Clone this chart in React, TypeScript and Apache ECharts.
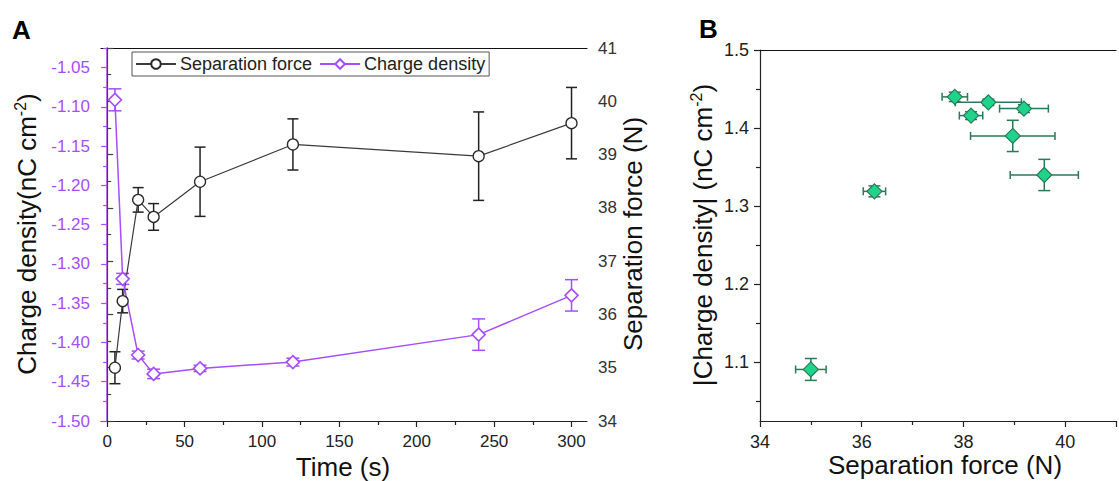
import React, { useEffect, useRef } from "react";
import * as echarts from "echarts";

// ---- data ----
const time = [5, 10, 20, 30, 60, 120, 240, 300];
const force = [35.0, 36.25, 38.15, 37.83, 38.49, 39.19, 38.97, 39.59];
const forceErr = [0.3, 0.22, 0.23, 0.25, 0.65, 0.48, 0.83, 0.67];
const charge = [-1.091, -1.319, -1.416, -1.44, -1.433, -1.425, -1.39, -1.34];
const chargeErr = [0.014, 0.007, 0.005, 0.006, 0.004, 0.005, 0.02, 0.02];

// ---- tick labels ----
const timeTicks = [0, 50, 100, 150, 200, 250, 300];
const timeMinor = [25, 75, 125, 175, 225, 275];
const chargeTicks = [-1.5, -1.45, -1.4, -1.35, -1.3, -1.25, -1.2, -1.15, -1.1, -1.05];
const chargeMinor = [-1.475, -1.425, -1.375, -1.325, -1.275, -1.225, -1.175, -1.125, -1.075, -1.025];
const absTicks = [1.1, 1.2, 1.3, 1.4, 1.5];
const absMinor = [1.05, 1.15, 1.25, 1.35, 1.45];

const FONT = "'Liberation Sans', Arial, sans-serif";
const PURPLE = "#a64dff";
const DARK = "#333333";
const GREEN_FILL = "#1fd38c";
const GREEN_DARK = "#2a7a55";

function vErr(color: string, hw: number, lw: number) {
  return (params: any, api: any) => {
    const x = api.value(0);
    const y = api.value(1);
    const e = api.value(2);
    const t = api.coord([x, y + e]);
    const b = api.coord([x, y - e]);
    const st = { stroke: color, lineWidth: lw };
    return {
      type: "group",
      children: [
        { type: "line", shape: { x1: t[0], y1: t[1], x2: b[0], y2: b[1] }, style: st },
        { type: "line", shape: { x1: t[0] - hw, y1: t[1], x2: t[0] + hw, y2: t[1] }, style: st },
        { type: "line", shape: { x1: b[0] - hw, y1: b[1], x2: b[0] + hw, y2: b[1] }, style: st },
      ],
    };
  };
}

function xyErr(color: string) {
  return (params: any, api: any) => {
    const x = api.value(0);
    const y = api.value(1);
    const ex = api.value(2);
    const ey = api.value(3);
    const t = api.coord([x, y + ey]);
    const b = api.coord([x, y - ey]);
    const l = api.coord([x - ex, y]);
    const r = api.coord([x + ex, y]);
    const st = { stroke: color, lineWidth: 1.5 };
    const hy = 6;
    const hx = 4;
    return {
      type: "group",
      children: [
        { type: "line", shape: { x1: t[0], y1: t[1], x2: b[0], y2: b[1] }, style: st },
        { type: "line", shape: { x1: t[0] - hy, y1: t[1], x2: t[0] + hy, y2: t[1] }, style: st },
        { type: "line", shape: { x1: b[0] - hy, y1: b[1], x2: b[0] + hy, y2: b[1] }, style: st },
        { type: "line", shape: { x1: l[0], y1: l[1], x2: r[0], y2: r[1] }, style: st },
        { type: "line", shape: { x1: l[0], y1: l[1] - hx, x2: l[0], y2: l[1] + hx }, style: st },
        { type: "line", shape: { x1: r[0], y1: r[1] - hx, x2: r[0], y2: r[1] + hx }, style: st },
      ],
    };
  };
}

function nameText(x: number, y: number, rotated: boolean, main: string, after: string, sup: string) {
  const txt = sup ? `{n|${main}}{s|${sup}}{n|${after}}` : `{n|${main}}`;
  return {
    type: "text",
    x,
    y,
    rotation: rotated ? Math.PI / 2 : 0,
    style: {
      text: txt,
      textAlign: "center",
      textVerticalAlign: "middle",
      align: "center",
      verticalAlign: "middle",
      rich: {
        n: { fontSize: 26, fontFamily: FONT, fill: "#111", lineHeight: 30 },
        s: { fontSize: 16, fontFamily: FONT, fill: "#111", lineHeight: 16, verticalAlign: "top" },
      },
    },
  };
}

export default function App() {
  const ref = useRef<HTMLDivElement>(null);

  useEffect(() => {
    if (!ref.current) return;
    const chart = echarts.init(ref.current, undefined, { renderer: "svg" });

    const forceData = time.map((t, i) => [t, force[i]]);
    const forceErrData = time.map((t, i) => [t, force[i], forceErr[i]]);
    const chargeData = time.map((t, i) => [t, charge[i]]);
    const chargeErrData = time.map((t, i) => [t, charge[i], chargeErr[i]]);
    const bData = time.map((_, i) => [force[i], Math.abs(charge[i])]);
    const bErrData = time.map((_, i) => [force[i], Math.abs(charge[i]), forceErr[i], chargeErr[i]]);

    const labelBase = { fontFamily: FONT, fontSize: 17 };

    const option: any = {
      animation: false,
      backgroundColor: "#ffffff",
      textStyle: { fontFamily: FONT },
      grid: [
        { left: 101, top: 48, width: 486, height: 373 },
        { left: 760, top: 50, width: 370, height: 371 },
      ],
      legend: {
        data: ["Separation force", "Charge density"],
        left: 132,
        top: 52,
        orient: "horizontal",
        borderColor: "#555",
        borderWidth: 1,
        borderRadius: 0,
        padding: [3, 4, 3, 3],
        itemGap: 7,
        itemWidth: 40,
        itemHeight: 12,
        textStyle: { fontFamily: FONT, fontSize: 18, color: "#222", padding: [0, 0, 0, -1] },
      },
      xAxis: [
        {
          type: "value", gridIndex: 0, position: "bottom", min: -4, max: 310,
          axisLine: { show: true, lineStyle: { color: "#222", width: 1.2 } },
          axisTick: { show: true, customValues: timeTicks, length: 6, lineStyle: { color: "#222", width: 1.2 } },
          axisLabel: { show: true, customValues: timeTicks, margin: 12, color: "#222", ...labelBase },
          splitLine: { show: false },
        },
        {
          type: "value", gridIndex: 0, position: "bottom", min: -4, max: 310,
          axisLine: { show: false },
          axisTick: { show: true, customValues: timeMinor, length: 4, lineStyle: { color: "#222", width: 1.2 } },
          axisLabel: { show: false },
          splitLine: { show: false },
        },
        {
          type: "value", gridIndex: 0, position: "top", min: -4, max: 310,
          axisLine: { show: true, lineStyle: { color: "#111", width: 1.2 } },
          axisTick: { show: false }, axisLabel: { show: false }, splitLine: { show: false },
        },
        {
          type: "value", gridIndex: 1, position: "bottom", min: 34, max: 41, interval: 2,
          axisLine: { show: true, lineStyle: { color: "#222", width: 1.2 } },
          axisTick: { show: true, length: 6, lineStyle: { color: "#222", width: 1.2 } },
          minorTick: { show: true, splitNumber: 2, length: 4, lineStyle: { color: "#222", width: 1.2 } },
          axisLabel: { show: true, margin: 12, color: "#222", fontFamily: FONT, fontSize: 18,
            formatter: (v: number) => (v > 40.5 ? "" : String(v)) },
          splitLine: { show: false },
        },
        {
          type: "value", gridIndex: 1, position: "top", min: 34, max: 41,
          axisLine: { show: true, lineStyle: { color: "#111", width: 1.2 } },
          axisTick: { show: false }, axisLabel: { show: false }, splitLine: { show: false },
        },
      ],
      yAxis: [
        {
          type: "value", gridIndex: 0, position: "left", min: -1.5, max: -1.025,
          axisLine: { show: true, lineStyle: { color: PURPLE, width: 1.5 } },
          axisTick: { show: true, customValues: chargeTicks, length: 6, lineStyle: { color: PURPLE, width: 1.2 } },
          axisLabel: { show: true, customValues: chargeTicks, margin: 11, color: PURPLE, ...labelBase,
            formatter: (v: number) => v.toFixed(2) },
          splitLine: { show: false },
        },
        {
          type: "value", gridIndex: 0, position: "left", min: -1.5, max: -1.025,
          axisLine: { show: false },
          axisTick: { show: true, customValues: chargeMinor, length: 4, lineStyle: { color: PURPLE, width: 1.2 } },
          axisLabel: { show: false }, splitLine: { show: false },
        },
        {
          type: "value", gridIndex: 0, position: "right", min: 34, max: 41, interval: 1,
          axisLine: { show: true, lineStyle: { color: "#444", width: 1.2 } },
          axisTick: { show: true, length: 6, lineStyle: { color: "#444", width: 1.2 } },
          minorTick: { show: true, splitNumber: 2, length: 4, lineStyle: { color: "#444", width: 1.2 } },
          axisLabel: { show: true, margin: 11, color: "#333", ...labelBase },
          splitLine: { show: false },
        },
        {
          type: "value", gridIndex: 1, position: "left", min: 1.025, max: 1.5,
          axisLine: { show: true, lineStyle: { color: "#222", width: 1.2 } },
          axisTick: { show: true, customValues: absTicks, length: 6, lineStyle: { color: "#222", width: 1.2 } },
          axisLabel: { show: true, customValues: absTicks, margin: 11, color: "#222", fontFamily: FONT, fontSize: 18,
            formatter: (v: number) => v.toFixed(1) },
          splitLine: { show: false },
        },
        {
          type: "value", gridIndex: 1, position: "left", min: 1.025, max: 1.5,
          axisLine: { show: false },
          axisTick: { show: true, customValues: absMinor, length: 4, lineStyle: { color: "#222", width: 1.2 } },
          axisLabel: { show: false }, splitLine: { show: false },
        },
      ],
      series: [
        {
          type: "custom", name: "forceErr", xAxisIndex: 0, yAxisIndex: 2, z: 1,
          renderItem: vErr("#222", 5.5, 1.5), data: forceErrData, silent: true,
        },
        {
          type: "custom", name: "chargeErr", xAxisIndex: 0, yAxisIndex: 0, z: 1,
          renderItem: vErr(PURPLE, 6.5, 1.5), data: chargeErrData, silent: true,
        },
        {
          type: "line", name: "Separation force", xAxisIndex: 0, yAxisIndex: 2, z: 3,
          data: forceData, symbol: "circle", symbolSize: 11, showSymbol: true,
          lineStyle: { color: "#3a3a3a", width: 1.2 },
          itemStyle: { color: "#ffffff", borderColor: "#2a2a2a", borderWidth: 1.3 },
        },
        {
          type: "line", name: "Charge density", xAxisIndex: 0, yAxisIndex: 0, z: 3,
          data: chargeData, symbol: "diamond", symbolSize: 13, showSymbol: true,
          lineStyle: { color: PURPLE, width: 1.5 },
          itemStyle: { color: "#ffffff", borderColor: PURPLE, borderWidth: 1.6 },
        },
        {
          type: "custom", name: "bErr", xAxisIndex: 3, yAxisIndex: 3, z: 1,
          renderItem: xyErr(GREEN_DARK), data: bErrData, silent: true,
        },
        {
          type: "scatter", name: "B", xAxisIndex: 3, yAxisIndex: 3, z: 3,
          data: bData, symbol: "diamond", symbolSize: 15,
          itemStyle: { color: GREEN_FILL, borderColor: GREEN_DARK, borderWidth: 1.2, opacity: 1 },
        },
      ],
      graphic: [
        { type: "text", x: 12, y: 17, style: { text: "A", fontSize: 26, fontWeight: "bold", fontFamily: FONT, fill: "#000",
          textAlign: "left", textVerticalAlign: "top", align: "left", verticalAlign: "top" } },
        { type: "text", x: 699, y: 16, style: { text: "B", fontSize: 26, fontWeight: "bold", fontFamily: FONT, fill: "#000",
          textAlign: "left", textVerticalAlign: "top", align: "left", verticalAlign: "top" } },
        nameText(27, 234, true, "Charge density(nC cm", ")", "-2"),
        nameText(633, 234, true, "Separation force (N)", "", ""),
        nameText(343, 467, false, "Time (s)", "", ""),
        nameText(703, 235, true, "|Charge density| (nC cm", ")", "-2"),
        nameText(945, 465, false, "Separation force (N)", "", ""),
      ],
    };

    chart.setOption(option);
    return () => chart.dispose();
  }, []);

  return (
    <div
      ref={ref}
      style={{ position: "fixed", left: 0, top: 0, width: 1119, height: 481, background: "#fff" }}
    />
  );
}
